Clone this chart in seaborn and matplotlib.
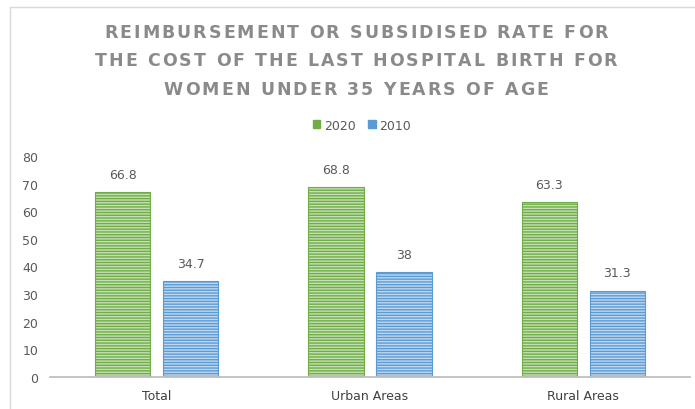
import matplotlib
matplotlib.use("Agg")
import matplotlib.pyplot as plt
import matplotlib.patches as mpatches
from matplotlib.font_manager import FontProperties, findfont
from matplotlib.ft2font import FT2Font
import seaborn as sns
import pandas as pd

categories = ["Total", "Urban Areas", "Rural Areas"]
values_2020 = [66.8, 68.8, 63.3]
values_2010 = [34.7, 38, 31.3]
series = ["2020", "2010"]
yticks = [0, 10, 20, 30, 40, 50, 60, 70, 80]
title_lines = [
    "REIMBURSEMENT OR SUBSIDISED RATE FOR",
    "THE COST OF THE LAST HOSPITAL BIRTH FOR",
    "WOMEN UNDER 35 YEARS OF AGE",
]

df = pd.DataFrame({
    "category": categories * 2,
    "value": values_2020 + values_2010,
    "year": [series[0]] * 3 + [series[1]] * 3,
})

sns.set_theme(style="white")
plt.rcParams["font.family"] = ["DejaVu Sans"]
plt.rcParams["hatch.linewidth"] = 1.0

edge_cols = {"2020": "#70AD47", "2010": "#5B9BD5"}
face_cols = {"2020": "#C5E0B4", "2010": "#C0D8F0"}

W, H, DPI = 695, 410, 100
fig = plt.figure(figsize=(W / DPI, H / DPI), dpi=DPI)
ax = fig.add_axes([50 / W, 32 / H, 640 / W, 221 / H])

sns.barplot(data=df, x="category", y="value", hue="year", hue_order=series,
            order=categories, palette=face_cols, width=0.638, gap=0.19,
            ax=ax, legend=False)

for cont, yr in zip(ax.containers, series):
    for p in cont.patches:
        p.set_facecolor(face_cols[yr])
        p.set_edgecolor(edge_cols[yr])
        p.set_hatch("------")
        p.set_linewidth(0.8)
    ax.bar_label(cont, labels=[f"{v:g}" for v in cont.datavalues], padding=8,
                 fontsize=9, color="#595959")

ax.set_ylim(0, 80)
ax.set_xlim(-0.5, 2.5)
ax.set_yticks(yticks)
ax.set_yticklabels([str(t) for t in yticks], fontsize=9, color="#595959")
ax.tick_params(axis="x", labelsize=9, colors="#404040", length=0, pad=9)
ax.tick_params(axis="y", length=0, pad=8.5)
ax.set_xlabel("")
ax.set_ylabel("")
for s in ["left", "right", "top"]:
    ax.spines[s].set_visible(False)
ax.spines["bottom"].set_color("#BFBFBF")
ax.spines["bottom"].set_linewidth(1.3)

# Letter-spaced title, one character at a time
tsize = 12.5
tprop = FontProperties(family="DejaVu Sans", size=tsize, weight="bold")
font = FT2Font(findfont(tprop))
font.set_size(tsize, DPI)


def advances(s):
    out = []
    for c in s:
        g = font.load_char(ord(c))
        out.append(g.linearHoriAdvance / 65536.0)
    return out


adv0 = advances(title_lines[0])
target = 504.0
extra = (target - sum(adv0)) / (len(title_lines[0]) - 1)
baselines = [38, 66.5, 95]
cx = 356.0
for line, base in zip(title_lines, baselines):
    adv = advances(line)
    total = sum(adv) + extra * (len(line) - 1)
    x = cx - total / 2
    for c, a in zip(line, adv):
        if c != " ":
            fig.text(x / W, 1 - base / H, c, ha="left", va="baseline",
                     fontproperties=tprop, color="#8A8A8A")
        x += a + extra

handles = [mpatches.Patch(facecolor=edge_cols[s], edgecolor=edge_cols[s], label=s) for s in series]
fig.legend(handles=handles, loc="center", bbox_to_anchor=(362 / W, 1 - 126 / H), ncol=2,
           frameon=False, fontsize=9, labelcolor="#595959", handlelength=0.6,
           handleheight=0.6, handletextpad=0.3, columnspacing=1.0)

border = mpatches.Rectangle((10 / W, -0.1), 1.2, (H - 8) / H + 0.1,
                            transform=fig.transFigure, fill=False,
                            edgecolor="#D9D9D9", linewidth=1.0)
fig.patches.append(border)

fig.savefig("out.png", dpi=DPI)
